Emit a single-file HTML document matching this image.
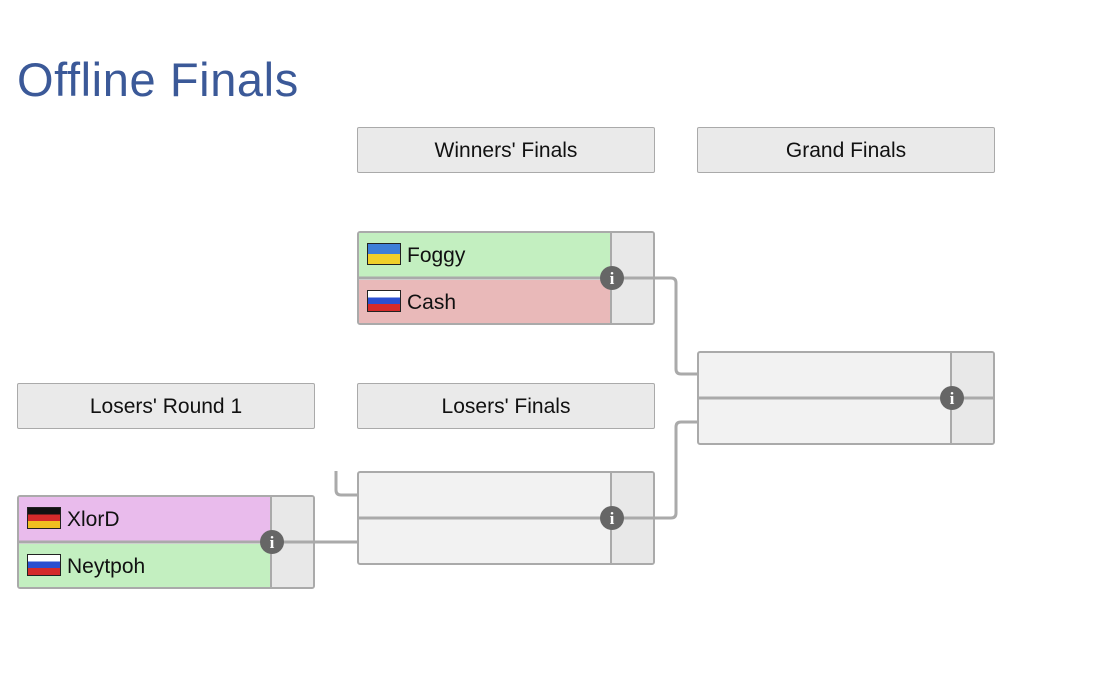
<!DOCTYPE html>
<html><head><meta charset="utf-8"><style>
body{margin:0;width:1100px;height:696px;background:#fff;position:relative;font-family:"Liberation Sans",sans-serif;overflow:hidden}
.t{position:absolute;left:17px;top:52px;font-size:47px;color:#3b5998;letter-spacing:0.6px}
.h{position:absolute;width:296px;height:44px;border:1px solid #aaa;border-radius:2px;background:#eaeaea;text-align:center;line-height:46px;font-size:21px;color:#111}
.m{position:absolute;border:2px solid #aaa;border-radius:3px;background:#f2f2f2;width:294px;height:90px;overflow:hidden}
.r{position:absolute;left:0;width:252px;height:45px;font-size:21px;line-height:45px;color:#111}
.s{position:absolute;left:251px;top:0;width:43px;height:90px;background:#e8e8e8;border-left:2px solid #aaa}
.f{display:inline-block;width:34px;height:22px;vertical-align:middle;margin:0 6px 0 8px;border:1px solid #222;box-sizing:border-box;position:relative;top:-2px}
svg{position:absolute;left:0;top:0}
</style></head><body>
<div class="t">Offline Finals</div>
<div class="h" style="left:357px;top:127px">Winners' Finals</div>
<div class="h" style="left:697px;top:127px">Grand Finals</div>
<div class="h" style="left:17px;top:383px">Losers' Round 1</div>
<div class="h" style="left:357px;top:383px">Losers' Finals</div>

<div class="m" style="left:357px;top:231px">
<div class="r" style="top:0;background:#c3efc0"><span class="f" style="background:linear-gradient(#3d7ed8 50%,#f0cf2a 50%)"></span>Foggy</div>
<div class="r" style="top:47px;background:#e9b9b9"><span class="f" style="background:linear-gradient(#fff 33%,#2a4fd0 33%,#2a4fd0 66%,#d42a2a 66%)"></span>Cash</div>
<div class="s"></div></div>

<div class="m" style="left:697px;top:351px"><div class="s"></div></div>
<div class="m" style="left:357px;top:471px"><div class="s"></div></div>

<div class="m" style="left:17px;top:495px">
<div class="r" style="top:0;background:#e9bbec"><span class="f" style="background:linear-gradient(#111 33%,#d42a2a 33%,#d42a2a 66%,#f0c020 66%)"></span>XlorD</div>
<div class="r" style="top:47px;background:#c3efc0"><span class="f" style="background:linear-gradient(#fff 33%,#2a4fd0 33%,#2a4fd0 66%,#d42a2a 66%)"></span>Neytpoh</div>
<div class="s"></div></div>

<svg width="1100" height="696">
<g stroke="#aaa" stroke-width="3" fill="none">
<line x1="357" y1="278" x2="611" y2="278"/>
<line x1="17" y1="542" x2="271" y2="542"/>
<line x1="357" y1="518" x2="655" y2="518"/>
<line x1="697" y1="398" x2="995" y2="398"/>
<path d="M612 278 H671 Q676 278 676 283 V369 Q676 374 681 374 H697"/>
<path d="M612 518 H671 Q676 518 676 513 V427 Q676 422 681 422 H697"/>
<path d="M272 542 H357"/>
<path d="M336 471 V490 Q336 495 341 495 H357"/>
</g>
<g font-family="Liberation Serif,serif" font-weight="bold" font-size="17" fill="#fff" text-anchor="middle">
<circle cx="612" cy="278" r="12" fill="#666"/><text x="612" y="284">i</text>
<circle cx="612" cy="518" r="12" fill="#666"/><text x="612" y="524">i</text>
<circle cx="272" cy="542" r="12" fill="#666"/><text x="272" y="548">i</text>
<circle cx="952" cy="398" r="12" fill="#666"/><text x="952" y="404">i</text>
</g>
</svg>
</body></html>
